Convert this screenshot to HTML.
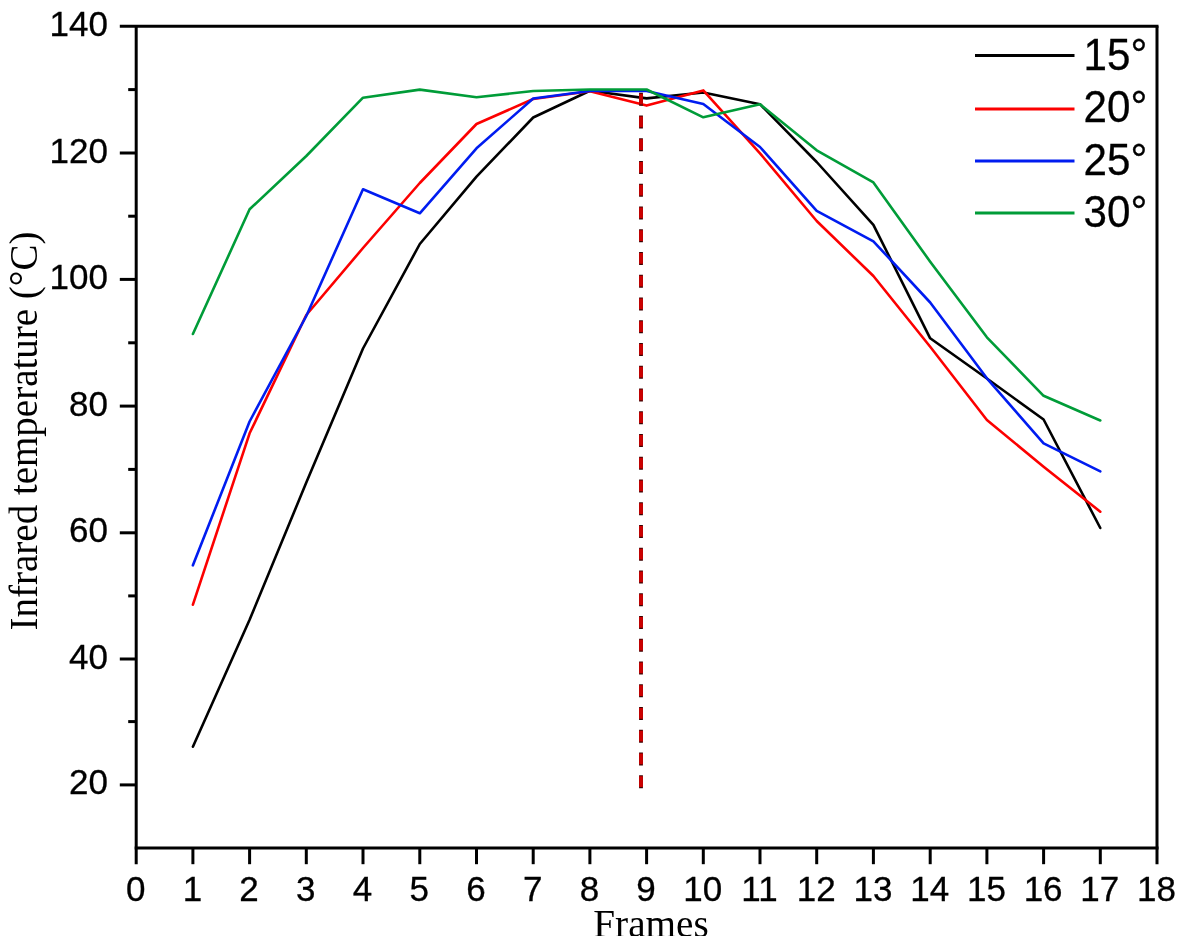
<!DOCTYPE html>
<html lang="en">
<head>
<meta charset="utf-8">
<title>Infrared temperature vs Frames</title>
<style>
html,body{margin:0;padding:0;background:#ffffff;}
body{width:1178px;height:936px;overflow:hidden;}
svg{display:block;}
.num{font-family:"Liberation Sans",Arial,sans-serif;font-size:35px;fill:#000;stroke:#000;stroke-width:0.3px;}
.leg{font-family:"Liberation Sans",Arial,sans-serif;font-size:44.6px;fill:#000;stroke:#000;stroke-width:0.3px;}
.ttl{font-family:"Liberation Serif","Times New Roman",serif;font-size:39px;fill:#000;}
</style>
</head>
<body>
<svg width="1178" height="936" viewBox="0 0 1178 936">
<rect x="0" y="0" width="1178" height="936" fill="#ffffff"/>
<g>
<polyline points="192.9,746.7 249.6,619.8 306.3,482.5 363.0,348.5 419.8,244.0 476.5,176.7 533.2,117.5 589.9,90.8 646.6,98.4 703.3,92.5 760.0,104.2 816.7,162.0 873.4,224.8 930.2,338.3 986.9,378.5 1043.6,419.5 1100.3,528.0" fill="none" stroke="#000000" stroke-width="2.6" stroke-linejoin="round" stroke-linecap="round"/>
<polyline points="192.9,604.7 249.6,433.3 306.3,315.0 363.0,248.0 419.8,183.0 476.5,124.0 533.2,99.0 589.9,91.3 646.6,105.6 703.3,90.4 760.0,153.3 816.7,221.0 873.4,276.0 930.2,346.7 986.9,420.0 1043.6,466.7 1100.3,511.7" fill="none" stroke="#fc0000" stroke-width="2.6" stroke-linejoin="round" stroke-linecap="round"/>
<polyline points="192.9,565.3 249.6,421.5 306.3,316.0 363.0,189.3 419.8,213.3 476.5,148.3 533.2,98.5 589.9,91.0 646.6,91.0 703.3,104.0 760.0,147.0 816.7,210.8 873.4,241.3 930.2,302.5 986.9,378.3 1043.6,443.3 1100.3,471.3" fill="none" stroke="#001cf0" stroke-width="2.6" stroke-linejoin="round" stroke-linecap="round"/>
<polyline points="192.9,334.0 249.6,209.3 306.3,156.0 363.0,97.7 419.8,89.6 476.5,97.3 533.2,91.0 589.9,89.5 646.6,89.5 703.3,117.3 760.0,104.2 816.7,150.3 873.4,182.4 930.2,261.7 986.9,337.3 1043.6,395.8 1100.3,420.5" fill="none" stroke="#009c38" stroke-width="2.6" stroke-linejoin="round" stroke-linecap="round"/>
</g>
<line x1="641" y1="92.7" x2="641" y2="788.3" stroke="#3c0000" stroke-width="3.8" stroke-dasharray="13 9.75"/>
<line x1="641" y1="93.8" x2="641" y2="788.3" stroke="#cc0000" stroke-width="3.8" stroke-dasharray="10.8 11.95"/>
<g stroke="#000" stroke-width="3.0" fill="none" stroke-linecap="butt">
<line x1="119.8" y1="26.2" x2="1158.5" y2="26.2"/>
<line x1="136.2" y1="26.2" x2="136.2" y2="864.2"/>
<line x1="134.7" y1="847.9" x2="1158.5" y2="847.9"/>
<line x1="1157.0" y1="26.2" x2="1157.0" y2="864.2"/>
<line x1="119.8" y1="153.0" x2="136.2" y2="153.0"/>
<line x1="119.8" y1="279.4" x2="136.2" y2="279.4"/>
<line x1="119.8" y1="406.1" x2="136.2" y2="406.1"/>
<line x1="119.8" y1="532.8" x2="136.2" y2="532.8"/>
<line x1="119.8" y1="659.0" x2="136.2" y2="659.0"/>
<line x1="119.8" y1="784.9" x2="136.2" y2="784.9"/>
<line x1="128.2" y1="89.6" x2="136.2" y2="89.6"/>
<line x1="128.2" y1="216.2" x2="136.2" y2="216.2"/>
<line x1="128.2" y1="342.8" x2="136.2" y2="342.8"/>
<line x1="128.2" y1="469.4" x2="136.2" y2="469.4"/>
<line x1="128.2" y1="595.9" x2="136.2" y2="595.9"/>
<line x1="128.2" y1="721.6" x2="136.2" y2="721.6"/>
<line x1="192.9" y1="847.9" x2="192.9" y2="864.2"/>
<line x1="249.6" y1="847.9" x2="249.6" y2="864.2"/>
<line x1="306.3" y1="847.9" x2="306.3" y2="864.2"/>
<line x1="363.0" y1="847.9" x2="363.0" y2="864.2"/>
<line x1="419.8" y1="847.9" x2="419.8" y2="864.2"/>
<line x1="476.5" y1="847.9" x2="476.5" y2="864.2"/>
<line x1="533.2" y1="847.9" x2="533.2" y2="864.2"/>
<line x1="589.9" y1="847.9" x2="589.9" y2="864.2"/>
<line x1="646.6" y1="847.9" x2="646.6" y2="864.2"/>
<line x1="703.3" y1="847.9" x2="703.3" y2="864.2"/>
<line x1="760.0" y1="847.9" x2="760.0" y2="864.2"/>
<line x1="816.7" y1="847.9" x2="816.7" y2="864.2"/>
<line x1="873.4" y1="847.9" x2="873.4" y2="864.2"/>
<line x1="930.2" y1="847.9" x2="930.2" y2="864.2"/>
<line x1="986.9" y1="847.9" x2="986.9" y2="864.2"/>
<line x1="1043.6" y1="847.9" x2="1043.6" y2="864.2"/>
<line x1="1100.3" y1="847.9" x2="1100.3" y2="864.2"/>
</g>
<g class="num" text-anchor="end">
<text transform="translate(107.9 35.7)">140</text>
<text transform="translate(107.9 162.5)">120</text>
<text transform="translate(107.9 288.9)">100</text>
<text transform="translate(107.9 415.6)">80</text>
<text transform="translate(107.9 542.3)">60</text>
<text transform="translate(107.9 668.5)">40</text>
<text transform="translate(107.9 794.4)">20</text>
</g>
<g class="num" text-anchor="middle">
<text transform="translate(135.7 901.4)">0</text>
<text transform="translate(192.4 901.4)">1</text>
<text transform="translate(249.1 901.4)">2</text>
<text transform="translate(305.8 901.4)">3</text>
<text transform="translate(362.5 901.4)">4</text>
<text transform="translate(419.3 901.4)">5</text>
<text transform="translate(476.0 901.4)">6</text>
<text transform="translate(532.7 901.4)">7</text>
<text transform="translate(589.4 901.4)">8</text>
<text transform="translate(646.1 901.4)">9</text>
<text transform="translate(702.8 901.4)">10</text>
<text transform="translate(759.5 901.4)">11</text>
<text transform="translate(816.2 901.4)">12</text>
<text transform="translate(872.9 901.4)">13</text>
<text transform="translate(929.7 901.4)">14</text>
<text transform="translate(986.4 901.4)">15</text>
<text transform="translate(1043.1 901.4)">16</text>
<text transform="translate(1099.8 901.4)">17</text>
<text transform="translate(1156.5 901.4)">18</text>
</g>
<text class="ttl" text-anchor="middle" transform="translate(37.1 431.0) rotate(-90)">Infrared temperature (°C)</text>
<text class="ttl" text-anchor="middle" x="651.0" y="936.5" style="font-size:39.2px">Frames</text>
<line x1="975" y1="55.4" x2="1074.5" y2="55.4" stroke="#000000" stroke-width="3"/>
<text class="leg" transform="translate(1083.6 69.8) scale(0.945 1)">15°</text>
<line x1="975" y1="109.0" x2="1074.5" y2="109.0" stroke="#fc0000" stroke-width="3"/>
<text class="leg" transform="translate(1083.6 121.5) scale(0.945 1)">20°</text>
<line x1="975" y1="160.95" x2="1074.5" y2="160.95" stroke="#001cf0" stroke-width="3"/>
<text class="leg" transform="translate(1083.6 175.2) scale(0.945 1)">25°</text>
<line x1="975" y1="212.9" x2="1074.5" y2="212.9" stroke="#009c38" stroke-width="3"/>
<text class="leg" transform="translate(1083.6 226.9) scale(0.945 1)">30°</text>
</svg>
</body>
</html>
